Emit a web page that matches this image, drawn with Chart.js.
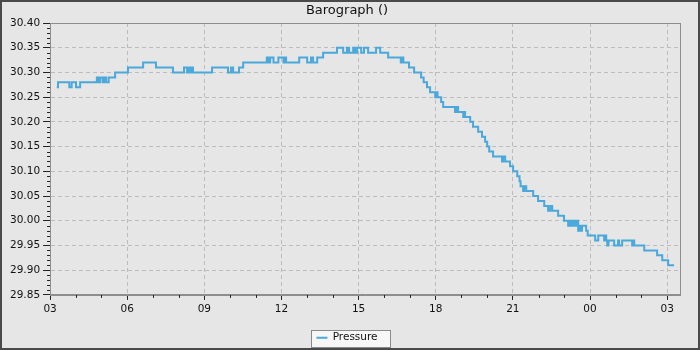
<!DOCTYPE html>
<html><head><meta charset="utf-8">
<script src="https://cdn.jsdelivr.net/npm/chart.js@4.4.1/dist/chart.umd.min.js"></script>
<style>
html,body{margin:0;padding:0;background:#e6e6e6;}
#wrap{width:700px;height:350px;box-sizing:border-box;border:2px solid #4a4a4a;background:#e6e6e6;}
canvas{display:block;}
</style></head><body>
<div id="wrap"><canvas id="c" width="696" height="346"></canvas></div>
<script>
const chartTitle = 'Barograph ()';
const seriesName = 'Pressure';
const startHour = 3;          // clock hour at x = 0
const xMaxHours = 24.5;       // axis end, hours after start
const labelEveryHours = 3;
const yMin = 29.85, yMax = 30.40;
// hours after 03:00 at which each reading starts (value holds until next time)
const hours = [
  0.26,0.31,0.75,0.84,1.01,1.17,1.82,1.89,1.94,2.04,
  2.10,2.18,2.28,2.53,3.03,3.62,4.12,4.78,5.21,5.33,
  5.37,5.45,5.50,5.56,6.30,6.92,7.04,7.12,7.35,7.51,
  8.43,8.50,8.56,8.69,8.88,9.08,9.12,9.18,9.69,10.00,
  10.15,10.23,10.39,10.62,11.16,11.40,11.55,11.63,11.79,11.86,
  11.94,12.10,12.21,12.37,12.68,12.84,13.15,13.64,13.69,13.74,
  13.96,14.16,14.43,14.53,14.66,14.78,14.98,15.01,15.07,15.21,
  15.29,15.75,15.79,15.87,16.07,16.10,16.14,16.34,16.45,16.65,
  16.80,16.92,17.00,17.08,17.23,17.58,17.62,17.70,17.89,18.01,
  18.17,18.26,18.30,18.40,18.44,18.52,18.79,18.98,19.22,19.37,
  19.45,19.53,19.76,19.99,20.15,20.21,20.27,20.34,20.42,20.46,
  20.54,20.60,20.64,20.69,20.85,20.91,21.20,21.32,21.55,21.59,
  21.63,21.67,21.72,21.94,22.09,22.13,22.25,22.64,22.68,22.72,
  23.11,23.61,23.81,24.04,24.27
];
const pressure = [
  30.27,30.28,30.27,30.28,30.27,30.28,30.29,30.28,30.29,30.28,
  30.29,30.28,30.29,30.30,30.31,30.32,30.31,30.30,30.31,30.30,
  30.31,30.30,30.31,30.30,30.31,30.30,30.31,30.30,30.31,30.32,
  30.33,30.32,30.33,30.32,30.33,30.32,30.33,30.32,30.33,30.32,
  30.33,30.32,30.33,30.34,30.35,30.34,30.35,30.34,30.35,30.34,
  30.35,30.34,30.35,30.34,30.35,30.34,30.33,30.32,30.33,30.32,
  30.31,30.30,30.29,30.28,30.27,30.26,30.25,30.26,30.25,30.24,
  30.23,30.22,30.23,30.22,30.21,30.22,30.21,30.20,30.19,30.18,
  30.17,30.16,30.15,30.14,30.13,30.12,30.13,30.12,30.11,30.10,
  30.09,30.08,30.07,30.06,30.07,30.06,30.05,30.04,30.03,30.02,
  30.03,30.02,30.01,30.00,29.99,30.00,29.99,30.00,29.99,30.00,
  29.98,29.99,29.98,29.99,29.98,29.97,29.96,29.97,29.96,29.97,
  29.96,29.95,29.96,29.95,29.96,29.95,29.96,29.95,29.96,29.95,
  29.94,29.93,29.92,29.91,29.91
];

const FONT = 'DejaVu Sans';
const LINE = '#4aa8da';
const AXIS = '#8e8e8e';
const GRID = '#bcbcbc';
const TICK = '#222';

const isMajorY = v => Math.round(v * 100) % 5 === 0;
const isMajorX = v => Math.round(v) % labelEveryHours === 0;

const framePlugin = {
  id: 'frame',
  beforeDraw(chart) {
    const lg = chart.legend;
    if (lg && lg.legendHitBoxes && lg.legendHitBoxes.length) {
      const hb = lg.legendHitBoxes[0];
      const ctx = chart.ctx;
      ctx.save();
      ctx.fillStyle = '#f7f7f7';
      ctx.strokeStyle = '#8a8a8a';
      ctx.lineWidth = 1;
      const l = Math.round(hb.left - 5) + 0.5, t = Math.round(hb.top - 3) + 0.5;
      const w = Math.round(hb.width + 18), h = Math.round(hb.height + 6);
      ctx.fillRect(l, t, w, h);
      ctx.strokeRect(l, t, w, h);
      ctx.restore();
    }
  },
  beforeDatasetsDraw(chart) {
    const {ctx, chartArea: a, scales} = chart;
    ctx.save();
    ctx.strokeStyle = AXIS;
    ctx.lineWidth = 1;
    ctx.strokeRect(Math.round(a.left) + 0.5, Math.round(a.top) + 0.5,
                   Math.round(a.right - a.left), Math.round(a.bottom - a.top));
    // minor ticks
    ctx.strokeStyle = TICK;
    ctx.beginPath();
    scales.y.ticks.forEach(t => {
      if (isMajorY(t.value)) return;
      const py = Math.round(scales.y.getPixelForValue(t.value)) + 0.5;
      ctx.moveTo(a.left - 3, py); ctx.lineTo(a.left, py);
    });
    scales.x.ticks.forEach(t => {
      if (isMajorX(t.value)) return;
      const px = Math.round(scales.x.getPixelForValue(t.value)) + 0.5;
      ctx.moveTo(px, a.bottom); ctx.lineTo(px, a.bottom + 3);
    });
    ctx.stroke();
    ctx.restore();
  }
};

new Chart(document.getElementById('c'), {
  type: 'line',
  data: {
    datasets: [{
      label: seriesName,
      data: hours.map((h, i) => ({x: h, y: pressure[i]})),
      stepped: true,
      borderColor: LINE,
      backgroundColor: LINE,
      borderWidth: 2,
      pointRadius: 0,
      fill: false
    }]
  },
  options: {
    responsive: false,
    animation: false,
    layout: {padding: {left: 5, right: 11, top: 1, bottom: -5}},
    plugins: {
      title: {display: true, text: chartTitle, color: '#111',
        font: {family: FONT, size: 13, weight: 'normal'}, padding: {top: 0, bottom: 4.4}},
      legend: {position: 'bottom',
        labels: {boxWidth: 11, boxHeight: 2, color: '#111', font: {family: FONT, size: 10.5}, padding: 4,
          generateLabels: chart => Chart.defaults.plugins.legend.labels.generateLabels(chart)
            .map(l => Object.assign(l, {lineWidth: 0}))}},
      tooltip: {enabled: false}
    },
    scales: {
      x: {
        type: 'linear', min: 0, max: xMaxHours,
        afterBuildTicks: s => { s.ticks = s.ticks.filter(t => Math.abs(t.value - Math.round(t.value)) < 1e-6); },
        afterFit: s => { s.height += 10; },
        ticks: {stepSize: 1, includeBounds: false, autoSkip: false, maxRotation: 0, color: '#111', padding: 3,
          font: {family: FONT, size: 10.5},
          callback: v => isMajorX(v) ? String((startHour + Math.round(v)) % 24).padStart(2, '0') : ''},
        grid: {
          color: c => (c.tick && isMajorX(c.tick.value) && c.tick.value > 0) ? GRID : 'rgba(0,0,0,0)',
          tickColor: c => (c.tick && isMajorX(c.tick.value)) ? TICK : 'rgba(0,0,0,0)',
          tickLength: 5, lineWidth: 1
        },
        border: {color: AXIS, dash: [4, 3]}
      },
      y: {
        min: yMin, max: yMax,
        ticks: {stepSize: 0.01, autoSkip: false, color: '#111', padding: 3,
          font: {family: FONT, size: 10.5},
          callback: v => isMajorY(v) ? v.toFixed(2) : ''},
        grid: {
          color: c => (c.tick && isMajorY(c.tick.value) && c.tick.value > yMin + 1e-6 && c.tick.value < yMax - 1e-6) ? GRID : 'rgba(0,0,0,0)',
          tickColor: c => (c.tick && isMajorY(c.tick.value)) ? TICK : 'rgba(0,0,0,0)',
          tickLength: 7, lineWidth: 1
        },
        border: {color: AXIS, dash: [4, 3]}
      },
      yRight: {
        position: 'right', min: yMin, max: yMax,
        ticks: {display: false},
        grid: {display: false},
        border: {display: false},
        afterFit: s => { s.width = 7; }
      }
    }
  },
  plugins: [framePlugin]
});
</script>
</body></html>
